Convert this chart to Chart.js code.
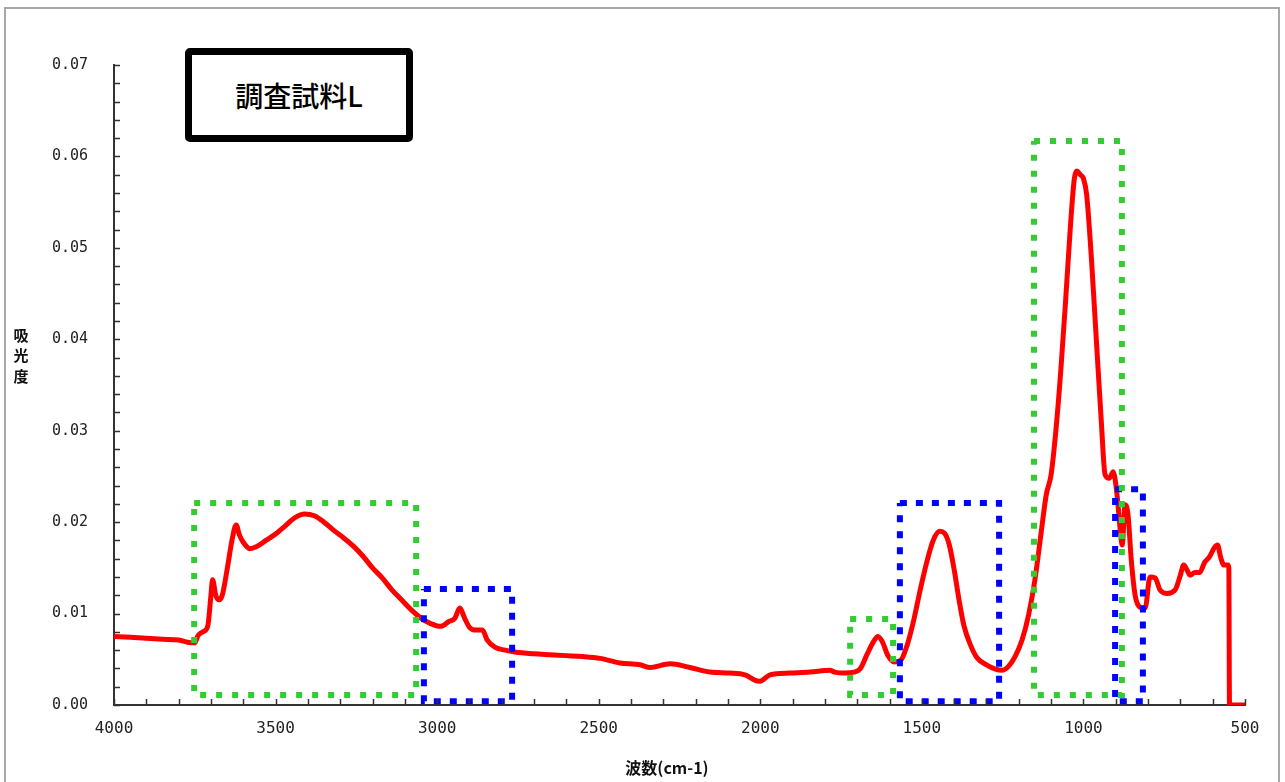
<!DOCTYPE html>
<html>
<head>
<meta charset="utf-8">
<script src="https://cdn.jsdelivr.net/npm/chart.js@4.4.1/dist/chart.umd.min.js"></script>
<style>
  html, body { margin: 0; padding: 0; background: #fff; }
  #wrap { position: relative; width: 1285px; height: 782px; overflow: hidden; }
  #frame { position: absolute; left: 4px; top: 7px; width: 1276px; height: 800px; border: 2px solid #a8a8a8; box-sizing: border-box; }
  canvas { position: absolute; left: 0; top: 0; }
  #title { position: absolute; left: 185px; top: 48px; width: 228px; height: 94px; box-sizing: border-box;
    border: 7px solid #000; border-radius: 5px; background: #fff;
    font-family: "Noto Sans CJK JP", sans-serif; font-size: 28px; font-weight: 500; color: #000;
    display: flex; align-items: center; justify-content: center; }
</style>
</head>
<body>
<div id="wrap">
  <div id="frame"></div>
  <canvas id="c" width="1285" height="782"></canvas>
  <div id="title">調査試料L</div>
</div>
<script>
// ---- data ----
const wavenumber = [4000,3950,3900,3850,3800,3760,3750,3740,3725,3710,3700,3695,3685,3675,3665,3650,3635,3622,3612,3600,3580,3560,3530,3500,3470,3440,3410,3380,3350,3320,3290,3260,3230,3200,3170,3140,3110,3080,3050,3020,2990,2965,2945,2930,2915,2900,2880,2860,2845,2820,2790,2760,2700,2650,2600,2550,2496,2434,2372,2341,2279,2218,2156,2094,2047,2016,2001,1970,1908,1846,1784,1770,1738,1710,1690,1670,1650,1636,1622,1605,1585,1565,1545,1525,1505,1485,1465,1445,1430,1415,1400,1385,1370,1350,1330,1300,1270,1250,1230,1210,1190,1170,1150,1130,1115,1100,1085,1070,1055,1040,1028,1020,1010,1000,990,975,960,945,933,920,908,896,886,880,871,862,852,840,825,809,794,778,763,741,716,700,690,680,670,655,640,625,610,595,585,575,565,553,550,548,500];
const absorbance = [0.0075,0.0074,0.0073,0.0072,0.0071,0.0068,0.0068,0.0076,0.0080,0.0086,0.0120,0.0137,0.0120,0.0115,0.0120,0.0148,0.0180,0.0197,0.0186,0.0178,0.0171,0.0173,0.0180,0.0187,0.0196,0.0205,0.0209,0.0207,0.0200,0.0191,0.0183,0.0174,0.0163,0.0150,0.0139,0.0126,0.0115,0.0104,0.0095,0.0089,0.0086,0.0091,0.0095,0.0106,0.0095,0.0085,0.0082,0.0082,0.0071,0.0063,0.0060,0.0058,0.0056,0.0055,0.0054,0.0053,0.0051,0.0046,0.0044,0.0041,0.0045,0.0041,0.0036,0.0035,0.0033,0.0027,0.0026,0.0033,0.0035,0.0036,0.0038,0.0036,0.0035,0.0036,0.0040,0.0055,0.0069,0.0075,0.0069,0.0054,0.0047,0.0049,0.0066,0.0093,0.0126,0.0156,0.0180,0.0190,0.0188,0.0175,0.0148,0.0115,0.0087,0.0066,0.0052,0.0044,0.0039,0.0038,0.0043,0.0054,0.0071,0.0098,0.0137,0.0191,0.0230,0.0252,0.0301,0.0366,0.0443,0.0525,0.0576,0.0584,0.0580,0.0576,0.0558,0.0487,0.0399,0.0312,0.0252,0.0248,0.0255,0.0230,0.0191,0.0175,0.0219,0.0208,0.0159,0.0120,0.0107,0.0106,0.0140,0.0139,0.0126,0.0122,0.0126,0.0142,0.0153,0.0148,0.0142,0.0145,0.0145,0.0156,0.0162,0.0172,0.0175,0.0161,0.0153,0.0153,0.0150,0.0000,0.0000];

// highlight boxes: [high wavenumber, low wavenumber, top absorbance, bottom absorbance]
const greenBoxes = [[3752,3065,0.0221,0.0011],[1722,1589,0.0094,0.0011],[1153,881,0.0617,0.0011]];
const blueBoxes  = [[3041,2768,0.0127,0.0004],[1568,1261,0.0221,0.0004],[902,816,0.0236,0.0004]];

const yTickLabels = ['0.00','0.01','0.02','0.03','0.04','0.05','0.06','0.07'];
const xTickLabels = ['4000','3500','3000','2500','2000','1500','1000','500'];
const xTitle = '波数(cm-1)';
const yTitle = ['吸','光','度'];

// ---- build ----
const spectrum = wavenumber.map((w, i) => ({ x: w, y: absorbance[i] }));
function rect(b) {
  return [{x:b[0],y:b[2]},{x:b[1],y:b[2]},{x:b[1],y:b[3]},{x:b[0],y:b[3]},{x:b[0],y:b[2]}];
}
const boxDatasets = [];
greenBoxes.forEach(b => boxDatasets.push({ data: rect(b), borderColor: '#33cc33', borderWidth: 6, borderDash: [6, 10], borderCapStyle: 'butt', pointRadius: 0, tension: 0, fill: false, order: 1 }));
blueBoxes.forEach(b => boxDatasets.push({ data: rect(b), borderColor: '#0000ff', borderWidth: 6, borderDash: [7, 9], borderCapStyle: 'butt', pointRadius: 0, tension: 0, fill: false, order: 1 }));

const innerTicks = {
  id: 'innerTicks',
  afterDraw(chart) {
    const ctx = chart.ctx;
    const xs = chart.scales.x, ys = chart.scales.y;
    ctx.save();
    ctx.strokeStyle = '#333';
    ctx.lineWidth = 1.5;
    ctx.beginPath();
    ys.ticks.forEach(t => {
      const py = Math.round(ys.getPixelForValue(t.value)) + 0.5;
      ctx.moveTo(xs.left, py); ctx.lineTo(xs.left + 6, py);
    });
    xs.ticks.forEach(t => {
      const px = Math.round(xs.getPixelForValue(t.value)) + 0.5;
      ctx.moveTo(px, ys.bottom); ctx.lineTo(px, ys.bottom - 6);
    });
    ctx.stroke();
    // axis titles
    ctx.fillStyle = '#111';
    ctx.textAlign = 'center';
    ctx.textBaseline = 'middle';
    ctx.font = 'bold 16px "Noto Sans CJK JP", sans-serif';
    ctx.fillText(xTitle, 667, 768);
    ctx.font = 'bold 15px "Noto Sans CJK JP", sans-serif';
    yTitle.forEach((ch, i) => ctx.fillText(ch, 21, 335 + i * 20.5));
    ctx.restore();
  }
};

new Chart(document.getElementById('c'), {
  type: 'line',
  data: {
    datasets: [
      { data: spectrum, borderColor: '#ff0000', borderWidth: 5, pointRadius: 0, cubicInterpolationMode: 'monotone', fill: false, order: 2, borderJoinStyle: 'round', borderCapStyle: 'round' },
      ...boxDatasets
    ]
  },
  options: {
    responsive: false,
    animation: false,
    events: [],
    layout: { padding: { top: 65, right: 40, left: 0, bottom: 0 } },
    plugins: { legend: { display: false }, tooltip: { enabled: false } },
    scales: {
      x: {
        type: 'linear', reverse: true, min: 500, max: 4000,
        afterFit(s) { s.height = 77; },
        grid: { display: true, drawOnChartArea: false, drawTicks: false },
        border: { display: true, color: '#333', width: 2 },
        ticks: {
          stepSize: 100, autoSkip: false, maxRotation: 0, padding: 14,
          color: '#222', font: { family: '"DejaVu Sans Mono", monospace', size: 16 },
          callback: v => { const s = String(Math.round(v)); return xTickLabels.includes(s) ? s : ''; }
        }
      },
      y: {
        type: 'linear', min: 0, max: 0.07,
        afterFit(s) { s.width = 114; },
        grid: { display: true, drawOnChartArea: false, drawTicks: false },
        border: { display: true, color: '#333', width: 2 },
        ticks: {
          stepSize: 0.002, autoSkip: false, padding: 26,
          color: '#222', font: { family: '"DejaVu Sans Mono", monospace', size: 15 },
          callback: v => { const s = v.toFixed(3); const l = v.toFixed(2); return (Math.round(v * 1000) % 10 === 0 && yTickLabels.includes(l)) ? l : ''; }
        }
      }
    }
  },
  plugins: [innerTicks]
});
</script>
</body>
</html>
